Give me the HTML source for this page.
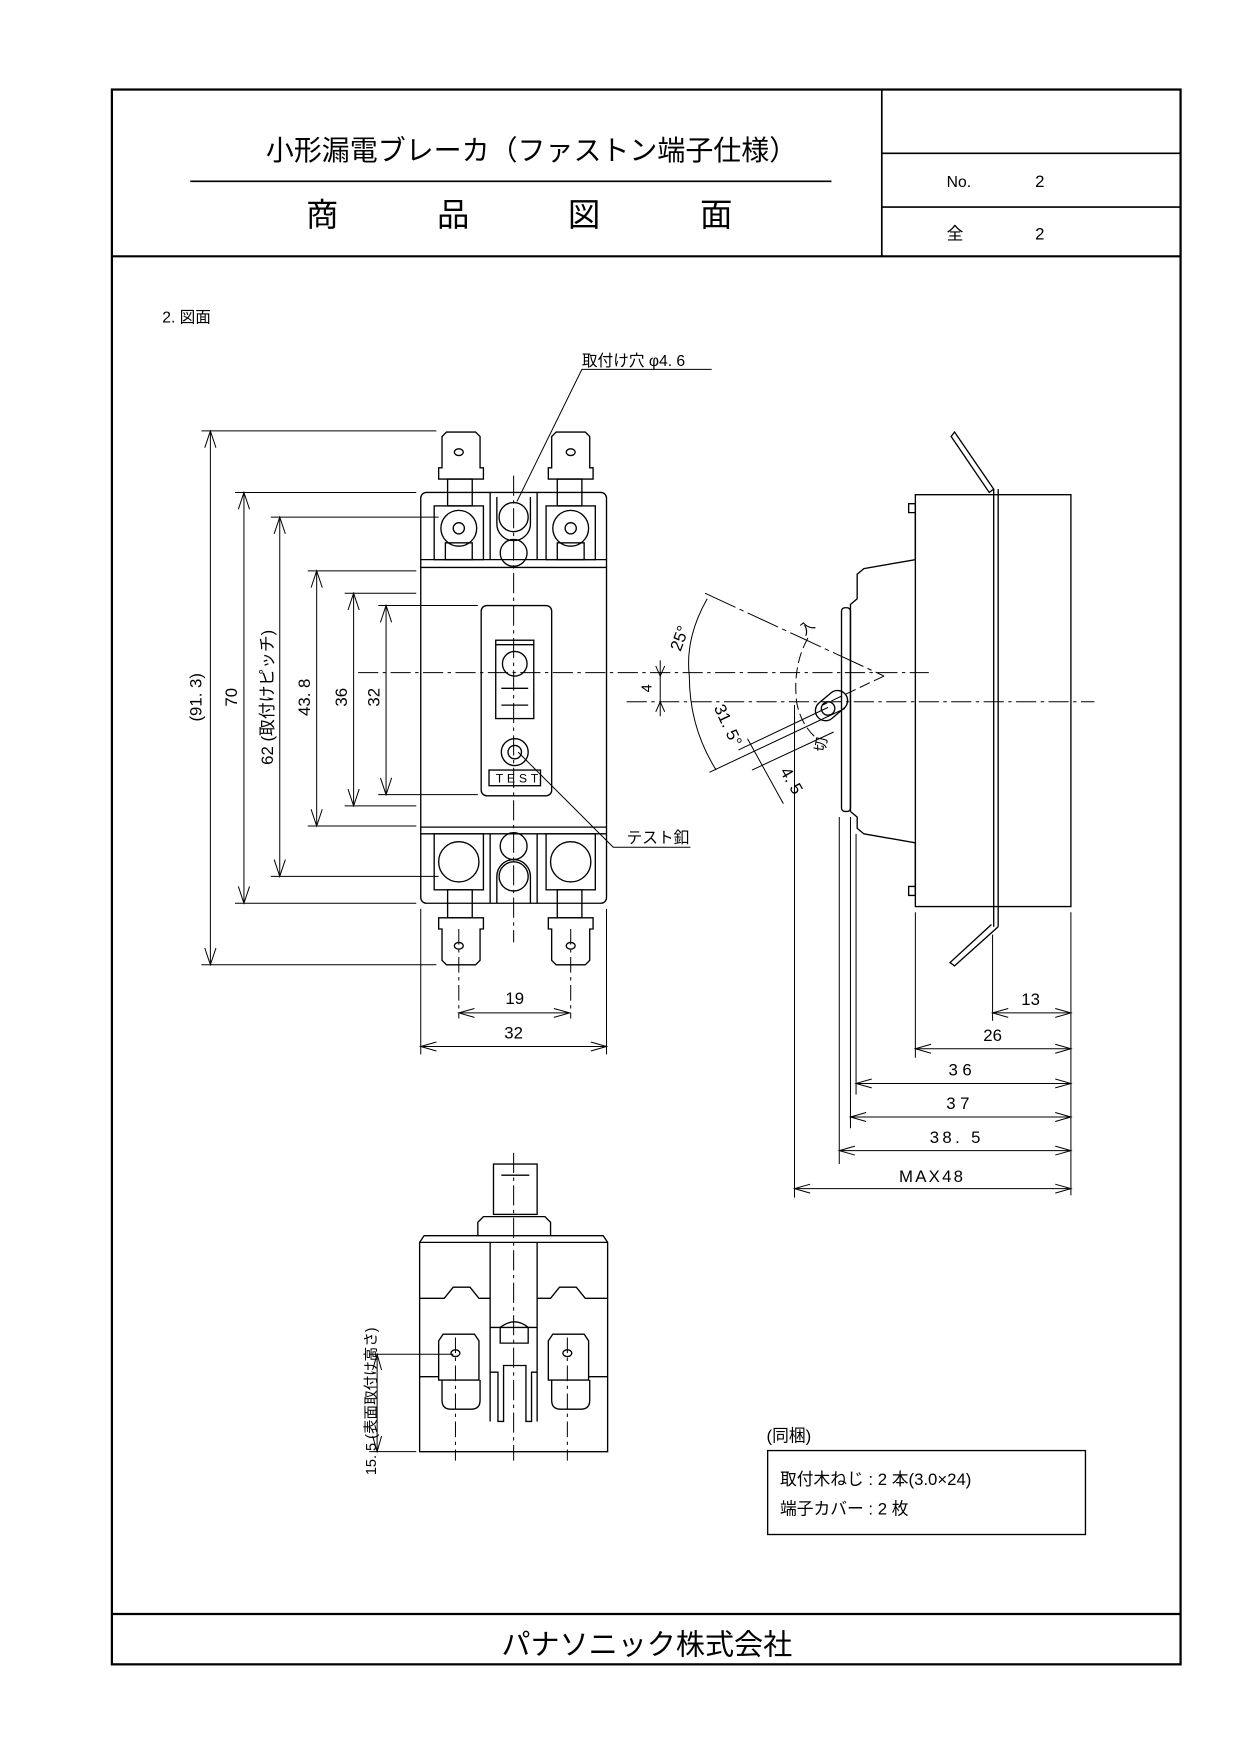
<!DOCTYPE html>
<html><head><meta charset="utf-8"><style>
html,body{margin:0;padding:0;background:#fff;}
svg{display:block}
text{font-family:"Liberation Sans","Noto Sans CJK JP",sans-serif;fill:#000}
</style></head><body>
<svg width="1241" height="1755" viewBox="0 0 1109 1568" preserveAspectRatio="none" xmlns="http://www.w3.org/2000/svg">
<g fill="none" stroke="#000">
<rect x="100" y="80" width="955" height="1407" stroke-width="2"/>
<line x1="100" y1="229" x2="1055" y2="229" stroke-width="2"/>
<line x1="788" y1="80" x2="788" y2="229" stroke-width="1.5"/>
<line x1="788" y1="137" x2="1055" y2="137" stroke-width="1.5"/>
<line x1="788" y1="185" x2="1055" y2="185" stroke-width="1.5"/>
<line x1="100" y1="1442" x2="1055" y2="1442" stroke-width="2"/>
<line x1="170" y1="162" x2="743" y2="162" stroke-width="1.5"/>
</g>
<text x="475" y="143" font-size="25" text-anchor="middle">小形漏電ブレーカ（ファストン端子仕様）</text>
<text x="288" y="202" font-size="29" text-anchor="middle">商</text>
<text x="405" y="202" font-size="29" text-anchor="middle">品</text>
<text x="522" y="202" font-size="29" text-anchor="middle">図</text>
<text x="640" y="202" font-size="29" text-anchor="middle">面</text>
<text x="846" y="167" font-size="14">No.</text>
<text x="925" y="167" font-size="15">2</text>
<text x="846" y="214" font-size="15">全</text>
<text x="925" y="214" font-size="15">2</text>
<text x="145" y="288" font-size="14">2. 図面</text>
<text x="578" y="1478" font-size="26" text-anchor="middle">パナソニック株式会社</text>

<g fill="none" stroke="#000" stroke-width="1.2">
<rect x="376" y="440" width="166" height="367" rx="5"/>
<line x1="376" y1="500" x2="542" y2="500"/>
<line x1="376" y1="507" x2="542" y2="507"/>
<line x1="376" y1="739" x2="542" y2="739"/>
<line x1="376" y1="745" x2="542" y2="745"/>
<rect x="430" y="541" width="63" height="170" rx="5"/>
<rect x="443" y="572" width="34" height="70"/>
<line x1="443" y1="576" x2="477" y2="576"/>
<circle cx="460" cy="593" r="11"/>
<line x1="448" y1="615" x2="472" y2="615"/>
<line x1="448" y1="630" x2="472" y2="630"/>
<circle cx="460" cy="672" r="12"/>
<circle cx="460" cy="672" r="6"/>
<rect x="437" y="688" width="46" height="14"/>
<rect x="388" y="452" width="44" height="48"/>
<rect x="488" y="452" width="44" height="48"/>
<line x1="438" y1="440" x2="438" y2="500"/><line x1="480" y1="440" x2="480" y2="500"/>
<circle cx="410" cy="472" r="16"/><circle cx="410" cy="472" r="5"/>
<circle cx="510" cy="472" r="16"/><circle cx="510" cy="472" r="5"/>
<path d="M444 444 v24 a15 15 0 0 0 30 0 v-24"/>
<circle cx="459" cy="462" r="13"/>
<circle cx="459" cy="494" r="12"/>
<rect x="398" y="485" width="24" height="15"/><rect x="498" y="485" width="24" height="15"/>
<rect x="400" y="428" width="22" height="24"/><rect x="498" y="428" width="22" height="24"/>
<path d="M392 428 v-10 h3 v-28 l4 -4 h26 l4 4 v28 h3 v10 z"/>
<path d="M490 428 v-10 h3 v-28 l4 -4 h26 l4 4 v28 h3 v10 z"/>
<ellipse cx="410" cy="404" rx="4" ry="3"/><ellipse cx="510" cy="404" rx="4" ry="3"/>
<rect x="388" y="745" width="44" height="50"/><rect x="488" y="745" width="44" height="50"/>
<line x1="438" y1="745" x2="438" y2="807"/><line x1="480" y1="745" x2="480" y2="807"/>
<circle cx="410" cy="770" r="18"/><circle cx="510" cy="770" r="18"/>
<circle cx="459" cy="756" r="12"/>
<path d="M444 807 v-24 a15 15 0 0 1 30 0 v24"/>
<circle cx="459" cy="783" r="13"/>
<rect x="400" y="795" width="22" height="25"/><rect x="498" y="795" width="22" height="25"/>
<path d="M392 820 v10 h3 v28 l4 4 h26 l4 -4 v-28 h3 v-10 z"/>
<path d="M490 820 v10 h3 v28 l4 4 h26 l4 -4 v-28 h3 v-10 z"/>
<ellipse cx="410" cy="845" rx="4" ry="3"/><ellipse cx="510" cy="845" rx="4" ry="3"/>
</g>
<g fill="none" stroke="#000" stroke-width="0.9">
<line x1="459" y1="425" x2="459" y2="842" stroke-dasharray="18 4 3 4"/>
<line x1="320" y1="601" x2="830" y2="601" stroke-dasharray="18 4 3 4"/>
<line x1="560" y1="627" x2="978" y2="627" stroke-dasharray="18 4 3 4"/>
<line x1="410" y1="830" x2="410" y2="910" stroke-dasharray="14 4 3 4"/>
<line x1="510" y1="830" x2="510" y2="910" stroke-dasharray="14 4 3 4"/>
<line x1="180" y1="385" x2="390" y2="385"/><line x1="180" y1="862" x2="390" y2="862"/>
<line x1="210" y1="440" x2="372" y2="440"/><line x1="210" y1="807" x2="372" y2="807"/>
<line x1="242" y1="462" x2="392" y2="462"/><line x1="242" y1="783" x2="392" y2="783"/>
<line x1="275" y1="510" x2="372" y2="510"/><line x1="275" y1="738" x2="372" y2="738"/>
<line x1="308" y1="530" x2="372" y2="530"/><line x1="308" y1="720" x2="372" y2="720"/>
<line x1="338" y1="541" x2="427" y2="541"/><line x1="338" y1="710" x2="427" y2="710"/>
<line x1="188" y1="385" x2="188" y2="862"/><line x1="218" y1="440" x2="218" y2="807"/>
<line x1="250" y1="462" x2="250" y2="783"/><line x1="283" y1="510" x2="283" y2="738"/>
<line x1="316" y1="530" x2="316" y2="720"/><line x1="345" y1="541" x2="345" y2="710"/>
<path d="M183 400 L188 385 L193 400 M183 847 L188 862 L193 847 M213 455 L218 440 L223 455 M213 792 L218 807 L223 792 M245 477 L250 462 L255 477 M245 768 L250 783 L255 768 M278 525 L283 510 L288 525 M278 723 L283 738 L288 723 M311 545 L316 530 L321 545 M311 705 L316 720 L321 705 M340 556 L345 541 L350 556 M340 695 L345 710 L350 695"/>
<line x1="376" y1="812" x2="376" y2="942"/><line x1="542" y1="812" x2="542" y2="942"/>
<line x1="410" y1="905" x2="509" y2="905"/><line x1="376" y1="935" x2="542" y2="935"/>
<path d="M424 901 L410 905 L424 909 M495 901 L509 905 L495 909 M390 931 L376 935 L390 939 M528 931 L542 935 L528 939"/>
<polyline points="462,448 520,330 636,330"/>
<polyline points="463,672 548,757 617,757"/>
</g>
<g font-size="15">
<text transform="translate(180,623) rotate(-90)" text-anchor="middle">(91. 3)</text>
<text transform="translate(212,623) rotate(-90)" text-anchor="middle">70</text>
<text transform="translate(244,623) rotate(-90)" text-anchor="middle">62 (取付けピッチ)</text>
<text transform="translate(277,623) rotate(-90)" text-anchor="middle">43. 8</text>
<text transform="translate(310,623) rotate(-90)" text-anchor="middle">36</text>
<text transform="translate(339,623) rotate(-90)" text-anchor="middle">32</text>
<text x="460" y="897" text-anchor="middle">19</text>
<text x="459" y="928" text-anchor="middle">32</text>
<text x="520" y="327" font-size="14">取付け穴 φ4. 6</text>
<text x="560" y="753" font-size="14">テスト釦</text>
<text x="443" y="699" font-size="11" textLength="38">TEST</text>
</g>

<g fill="none" stroke="#000" stroke-width="1.2">
<path d="M818 442 H957 V810 H818 Z"/>
<path d="M818 450 h-6 v8 h6 M818 800 h-6 v-8 h6"/>
<path d="M818 450 V500 L772 508 L766 513 V535 L760 540 V725 L766 730 V740 L772 745 L818 753 V800"/>
<rect x="752" y="543" width="8" height="182" rx="3"/>
<path d="M888 437 L853 386 L850 390 L884 440 Z"/>
<line x1="888" y1="437" x2="888" y2="828"/><line x1="892" y1="437" x2="892" y2="828"/>
<path d="M892 828 L853 863 L849 860 L886 826"/>
<g transform="rotate(-40 740 633)"><rect x="728" y="624" width="32" height="18" rx="9"/><circle cx="740" cy="633" r="6"/></g>
</g>
<g fill="none" stroke="#000" stroke-width="0.9">
<line x1="630" y1="530" x2="790" y2="604" stroke-dasharray="30 4 4 4"/>
<line x1="790" y1="604" x2="735" y2="630" stroke-dasharray="10 4"/>
<line x1="634" y1="690" x2="755" y2="633"/>
<line x1="660" y1="670" x2="740" y2="632"/>
<line x1="672" y1="688" x2="745" y2="654"/>
<path d="M632 535 Q612 570 616 604 Q616 650 640 688"/>
<path d="M722 570 Q708 595 712 628 Q716 648 730 660" stroke-dasharray="10 4"/>
<line x1="668" y1="660" x2="700" y2="718"/>
<line x1="590" y1="590" x2="590" y2="640"/>
<line x1="710" y1="630" x2="710" y2="1070"/>
<line x1="750" y1="730" x2="750" y2="1040"/>
<line x1="760" y1="730" x2="760" y2="1008"/>
<line x1="765" y1="745" x2="765" y2="978"/>
<line x1="818" y1="815" x2="818" y2="945"/>
<line x1="887" y1="835" x2="887" y2="912"/>
<line x1="957" y1="815" x2="957" y2="1068"/>
<line x1="887" y1="905" x2="957" y2="905"/><line x1="818" y1="937" x2="957" y2="937"/>
<line x1="765" y1="968" x2="957" y2="968"/><line x1="760" y1="998" x2="957" y2="998"/>
<line x1="750" y1="1028" x2="957" y2="1028"/><line x1="710" y1="1062" x2="957" y2="1062"/>
<path d="M901 901 L887 905 L901 909 M943 901 L957 905 L943 909 M832 933 L818 937 L832 941 M943 933 L957 937 L943 941 M779 964 L765 968 L779 972 M943 964 L957 968 L943 972 M774 994 L760 998 L774 1002 M943 994 L957 998 L943 1002 M764 1024 L750 1028 L764 1032 M943 1024 L957 1028 L943 1032 M724 1058 L710 1062 L724 1066 M943 1058 L957 1062 L943 1066 M586 595 L590 604 L594 595 M586 636 L590 627 L594 636"/>
</g>
<g font-size="15">
<text x="921" y="898" text-anchor="middle">13</text>
<text x="887" y="930" text-anchor="middle">26</text>
<text x="860" y="961" text-anchor="middle" letter-spacing="4">36</text>
<text x="858" y="991" text-anchor="middle" letter-spacing="4">37</text>
<text x="855" y="1021" text-anchor="middle" letter-spacing="3">38. 5</text>
<text x="833" y="1056" text-anchor="middle" letter-spacing="2">MAX48</text>
<text transform="translate(582,615) rotate(-90)" font-size="13" text-anchor="middle">4</text>
<text transform="translate(612,572) rotate(-70)" text-anchor="middle">25°</text>
<text transform="translate(646,650) rotate(65)" text-anchor="middle">31. 5°</text>
<text transform="translate(703,700) rotate(60)" text-anchor="middle">4. 5</text>
<text transform="translate(724,564) rotate(-40)" font-size="13" text-anchor="middle">入</text>
<text transform="translate(738,666) rotate(-80)" font-size="13" text-anchor="middle">切</text>
</g>

<g fill="none" stroke="#000" stroke-width="1.2">
<rect x="441" y="1040" width="39" height="45"/>
<line x1="448" y1="1050" x2="473" y2="1050"/>
<path d="M427 1104 v-12 l5 -5 h55 l5 5 v12"/>
<path d="M375 1297 V1110 l4 -6 H539 l4 6 V1297 Z"/>
<line x1="375" y1="1110" x2="543" y2="1110"/>
<line x1="438" y1="1110" x2="438" y2="1270"/><line x1="480" y1="1110" x2="480" y2="1270"/>
<path d="M375 1160 H397 L405 1150 H420 L428 1160 H438"/>
<path d="M480 1160 H492 L500 1150 H515 L523 1160 H543"/>
<path d="M375 1230 H392 M526 1230 H543"/>
<path d="M438 1226 H445 V1270 H450 V1220 H470 V1270 H475 V1226 H480"/>
<path d="M447 1186 V1200 H472 V1186 Q460 1176 447 1186"/>
<line x1="438" y1="1186" x2="480" y2="1186"/>
<path d="M392 1233 V1198 l4 -6 h28 l4 6 V1233 Z"/><path d="M395 1233 v18 q0 8 8 8 h18 q8 0 8 -8 v-18"/>
<path d="M490 1233 V1198 l4 -6 h28 l4 6 V1233 Z"/><path d="M493 1233 v18 q0 8 8 8 h18 q8 0 8 -8 v-18"/>
<ellipse cx="407" cy="1209" rx="4" ry="3"/><ellipse cx="507" cy="1209" rx="4" ry="3"/>
</g>
<g fill="none" stroke="#000" stroke-width="0.9">
<line x1="459" y1="1030" x2="459" y2="1305" stroke-dasharray="18 4 3 4"/>
<line x1="407" y1="1195" x2="407" y2="1305" stroke-dasharray="14 4 3 4"/>
<line x1="507" y1="1195" x2="507" y2="1305" stroke-dasharray="14 4 3 4"/>
<line x1="330" y1="1210" x2="405" y2="1210"/><line x1="330" y1="1297" x2="372" y2="1297"/>
<line x1="337" y1="1210" x2="337" y2="1297"/>
<path d="M333 1224 L337 1210 L341 1224 M333 1283 L337 1297 L341 1283"/>
<rect x="686" y="1296" width="284" height="75" stroke-width="1.2"/>
</g>
<text transform="translate(336,1318) rotate(-90)" font-size="13">15. 5 (表面取付け高さ)</text>
<text x="685" y="1288" font-size="15">(同梱)</text>
<text x="697" y="1327" font-size="15">取付木ねじ : 2 本(3.0×24)</text>
<text x="697" y="1353" font-size="15">端子カバー : 2 枚</text>
</svg>
</body></html>
